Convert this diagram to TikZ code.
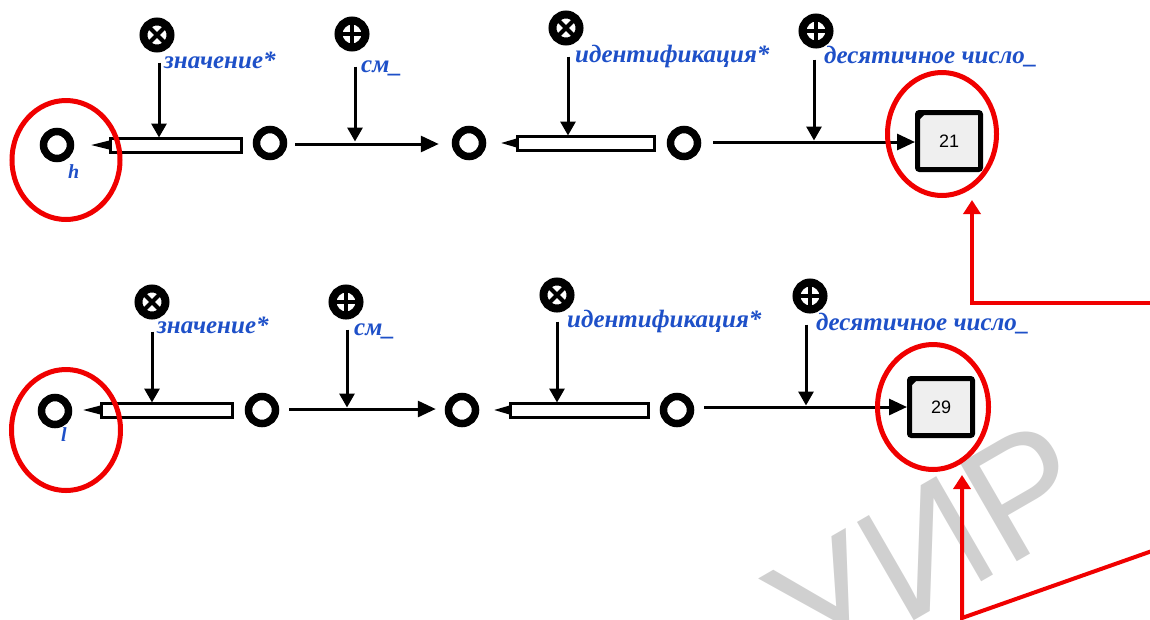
\documentclass[tikz,border=0pt]{standalone}
\usepackage{fontspec}
\setmainfont{Liberation Serif}
\newfontfamily\numfont{Liberation Sans}
\newfontfamily\wmfont{Liberation Sans}
\usetikzlibrary{arrows.meta,calc,shapes.geometric}
\definecolor{lblue}{RGB}{30,80,200}
\definecolor{mred}{RGB}{240,0,0}
\definecolor{boxgray}{RGB}{239,239,239}
\definecolor{wmgray}{RGB}{208,208,208}

\begin{document}
\begin{tikzpicture}[x=1pt,y=-1pt,
  vertex/.style={circle,draw,line width=7.5pt,minimum size=27pt,inner sep=0pt},
  xmark/.style={circle,draw,fill=white,line width=8pt,minimum size=27pt,inner sep=0pt,
    path picture={\draw[line width=4pt]
      (path picture bounding box.north west) -- (path picture bounding box.south east)
      (path picture bounding box.north east) -- (path picture bounding box.south west);}},
  pmark/.style={circle,draw,fill=white,line width=8pt,minimum size=27pt,inner sep=0pt,
    path picture={\draw[line width=4pt]
      (path picture bounding box.north) -- (path picture bounding box.south)
      (path picture bounding box.east) -- (path picture bounding box.west);}},
  valbox/.style={draw,fill=boxgray,line width=5pt,rounded corners=2pt,
    minimum width=63pt,minimum height=57pt,inner sep=0pt,
    font=\numfont\fontsize{18pt}{21pt}\selectfont},
  lbl/.style={anchor=base west,inner sep=0pt,text=lblue,
    font=\fontsize{25pt}{30pt}\selectfont\bfseries\itshape},
  ring/.style={ellipse,draw=mred,line width=5pt,inner sep=0pt},
  flow/.style={line width=3pt,-{Triangle[length=18pt,width=16pt]}},
  feed/.style={line width=3pt,-{Triangle[length=14pt,width=15pt]}},
  bar/.style={line width=3pt,fill=white},
  redarrow/.style={draw=mred,line width=4pt,-{Triangle[length=14pt,width=17pt]}}
]
\useasboundingbox (0,0) rectangle (1150,619);

% faint lettering in the background
\node[text=wmgray,rotate=30,font=\wmfont\fontsize{165pt}{165pt}\selectfont,inner sep=0pt]
  (wm) at (928,548) {УИР};

% ---------------- upper chain ----------------
\node[vertex] (h)  at (57,145) {};
\node[vertex] (a2) at (270,143) {};
\node[vertex] (a3) at (469,143) {};
\node[vertex] (a4) at (684,143) {};
\node[valbox] (b1) at (949,141) {21};
\fill ($(b1.north west)+(2,2)$) -- ++(10,0) -- ++(-10,10) -- cycle;

\node[xmark] (sa1) at (157,35) {};
\node[pmark] (sa2) at (352,34) {};
\node[xmark] (sa3) at (566,28) {};
\node[pmark] (sa4) at (816,31) {};

\node[lbl] (la1) at (164,68) {значение*};
\node[lbl] (la2) at (361,72) {см\_};
\node[lbl] (la3) at (575,62) {идентификация*};
\node[lbl] (la4) at (824,63) {десятичное число\_};
\node[lbl,font=\fontsize{20pt}{24pt}\selectfont\bfseries\itshape] (lh) at (68,178) {h};

% pencil arrow a2 -> h
\coordinate (pa1) at ($(a2.west)+(-11,2)$);
\coordinate (ta1) at ($(h.east)+(17,0)$);
\draw[bar] ($(ta1)+(19,-7)$) rectangle ($(pa1)+(0,7)$);
\fill (ta1) -- ($(ta1)+(20,-5)$) -- ($(ta1)+(20,5)$) -- cycle;
% plain arrow a2 -> a3
\draw[flow] ($(a2.east)+(8,1)$) -- ($(a3.west)+(-13,1)$);
% pencil arrow a4 -> a3
\coordinate (pa3) at ($(a4.west)+(-12,0)$);
\coordinate (ta3) at ($(a3.east)+(15,0)$);
\draw[bar] ($(ta3)+(16,-7)$) rectangle ($(pa3)+(0,7)$);
\fill (ta3) -- ($(ta3)+(17,-5)$) -- ($(ta3)+(17,5)$) -- cycle;
% plain arrow a4 -> b1
\draw[flow] ($(a4.east)+(12,-1)$) -- (b1.west |- 0,142);

% feeding arrows
\draw[feed] ($(sa1.south)+(2,10)$) -- ++(0,75);
\draw[feed] ($(sa2.south)+(3,15)$) -- ++(0,75);
\draw[feed] ($(sa3.south)+(2,11)$) -- ++(0,79);
\draw[feed] ($(sa4.south)+(-2,11)$) -- ++(0,81);

% ---------------- lower chain ----------------
\node[vertex] (l)  at (55,411) {};
\node[vertex] (c2) at (262,410) {};
\node[vertex] (c3) at (462,410) {};
\node[vertex] (c4) at (677,410) {};
\node[valbox] (b2) at (941,407) {29};
\fill ($(b2.north west)+(2,2)$) -- ++(10,0) -- ++(-10,10) -- cycle;

\node[xmark] (sc1) at (152,302) {};
\node[pmark] (sc2) at (346,302) {};
\node[xmark] (sc3) at (557,295) {};
\node[pmark] (sc4) at (810,296) {};

\node[lbl] (lc1) at (157,333) {значение*};
\node[lbl] (lc2) at (354,335) {см\_};
\node[lbl] (lc3) at (567,327) {идентификация*};
\node[lbl] (lc4) at (816,330) {десятичное число\_};
\node[lbl,font=\fontsize{20pt}{24pt}\selectfont\bfseries\itshape] (ll) at (61,441) {l};

% pencil arrow c2 -> l
\coordinate (pc1) at ($(c2.west)+(-12,0)$);
\coordinate (tc1) at ($(l.east)+(11,-1)$);
\draw[bar] ($(tc1)+(18,-7)$) rectangle ($(pc1)+(0,7)$);
\fill (tc1) -- ($(tc1)+(19,-5)$) -- ($(tc1)+(19,5)$) -- cycle;
% plain arrow c2 -> c3
\draw[flow] ($(c2.east)+(10,-1)$) -- ($(c3.west)+(-9,-1)$);
% pencil arrow c4 -> c3
\coordinate (pc3) at ($(c4.west)+(-11,0)$);
\coordinate (tc3) at ($(c3.east)+(15,0)$);
\draw[bar] ($(tc3)+(16,-7)$) rectangle ($(pc3)+(0,7)$);
\fill (tc3) -- ($(tc3)+(17,-5)$) -- ($(tc3)+(17,5)$) -- cycle;
% plain arrow c4 -> b2
\draw[flow] ($(c4.east)+(10,-3)$) -- (b2.west |- 0,407);

% feeding arrows
\draw[feed] ($(sc1.south)+(0,12)$) -- ++(0,71);
\draw[feed] ($(sc2.south)+(1,10)$) -- ++(0,78);
\draw[feed] ($(sc3.south)+(0,9)$) -- ++(0,81);
\draw[feed] ($(sc4.south)+(-4,11)$) -- ++(0,81);

% ---------------- red highlights ----------------
\node[ring,minimum width=108pt,minimum height=119pt] (e1) at (66,160) {};
\node[ring,minimum width=109pt,minimum height=123pt] (e2) at (942,134) {};
\node[ring,minimum width=109pt,minimum height=121pt] (e3) at (66,430) {};
\node[ring,minimum width=111pt,minimum height=125pt] (e4) at (933,407) {};

\coordinate (r1) at (1152,303);
\draw[redarrow] (r1) -| ($(e2.south)+(30,2)$);
\coordinate (r2) at (1152,551);
\coordinate (r2k) at (962,618);
\draw[redarrow] (r2) -- (r2k) -- ($(e4.south)+(29,3)$);
\end{tikzpicture}
\end{document}
